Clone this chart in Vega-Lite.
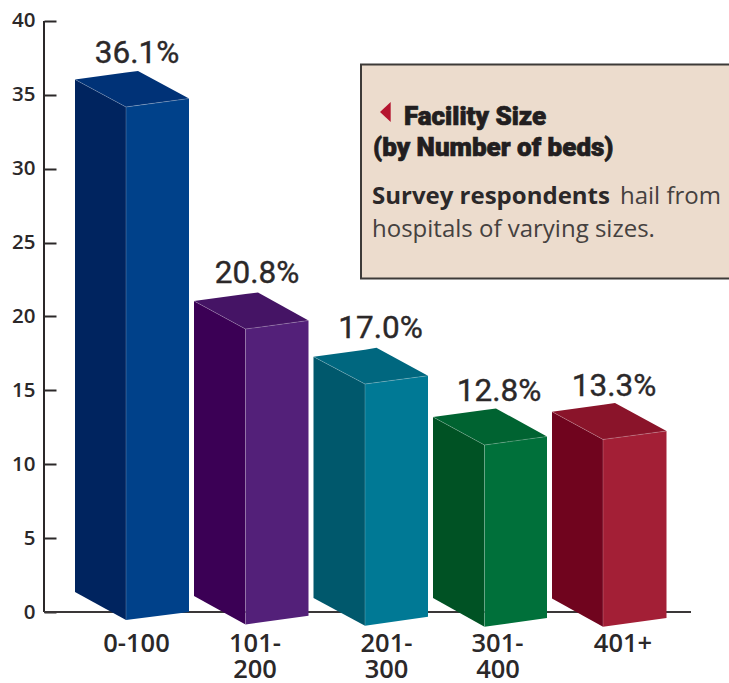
{
"$schema":"https://vega.github.io/schema/vega-lite/v6.json",
"width":729,"height":683,"padding":0,"autosize":{"type":"none"},
"background":"white",
"config":{"view":{"stroke":null}},
"datasets":{
"faces":[
{"k":"b1side","x":75,"y":36.04,"y2":1.35},{"k":"b1side","x":126,"y":34.18,"y2":-0.54},
{"k":"b1front","x":126,"y":34.18,"y2":-0.54},{"k":"b1front","x":189,"y":34.75,"y2":0},
{"k":"b1top","x":75,"y":36.04,"y2":36.04},{"k":"b1top","x":126,"y":36.51,"y2":34.18},{"k":"b1top","x":138,"y":36.62,"y2":34.29},{"k":"b1top","x":189,"y":34.75,"y2":34.75},
{"k":"b2side","x":194,"y":21.05,"y2":1.08},{"k":"b2side","x":245.5,"y":19.15,"y2":-0.85},
{"k":"b2front","x":245.5,"y":19.15,"y2":-0.85},{"k":"b2front","x":308.5,"y":19.73,"y2":-0.25},
{"k":"b2top","x":194,"y":21.05,"y2":21.05},{"k":"b2top","x":245.5,"y":21.52,"y2":19.15},{"k":"b2top","x":258,"y":21.62,"y2":19.26},{"k":"b2top","x":308.5,"y":19.73,"y2":19.73},
{"k":"b3side","x":313.5,"y":17.28,"y2":0.95},{"k":"b3side","x":365,"y":15.43,"y2":-0.93},
{"k":"b3front","x":365,"y":15.43,"y2":-0.93},{"k":"b3front","x":428,"y":15.99,"y2":-0.32},
{"k":"b3top","x":313.5,"y":17.28,"y2":17.28},{"k":"b3top","x":365,"y":17.75,"y2":15.43},{"k":"b3top","x":376.5,"y":17.89,"y2":15.53},{"k":"b3top","x":428,"y":15.99,"y2":15.99},
{"k":"b4side","x":433,"y":13.2,"y2":0.95},{"k":"b4side","x":484.5,"y":11.3,"y2":-0.99},
{"k":"b4front","x":484.5,"y":11.3,"y2":-0.99},{"k":"b4front","x":547,"y":11.88,"y2":-0.41},
{"k":"b4top","x":433,"y":13.2,"y2":13.2},{"k":"b4top","x":484.5,"y":13.67,"y2":11.3},{"k":"b4top","x":496,"y":13.77,"y2":11.4},{"k":"b4top","x":547,"y":11.88,"y2":11.88},
{"k":"b5side","x":552,"y":13.56,"y2":0.91},{"k":"b5side","x":603,"y":11.68,"y2":-0.99},
{"k":"b5front","x":603,"y":11.68,"y2":-0.99},{"k":"b5front","x":666.5,"y":12.25,"y2":-0.41},
{"k":"b5top","x":552,"y":13.56,"y2":13.56},{"k":"b5top","x":603,"y":14.02,"y2":11.68},{"k":"b5top","x":615,"y":14.15,"y2":11.78},{"k":"b5top","x":666.5,"y":12.25,"y2":12.25},
{"k":"marker","x":380,"y":33.84,"y2":33.84},{"k":"marker","x":390.7,"y":34.52,"y2":33.16}
],
"edges":[
{"e":"1a","n":1,"x":75,"y":36.04},{"e":"1a","n":2,"x":126,"y":34.18},{"e":"1a","n":3,"x":189,"y":34.75},
{"e":"1b","n":1,"x":126,"y":34.18},{"e":"1b","n":2,"x":126,"y":-0.54},
{"e":"2a","n":1,"x":194,"y":21.05},{"e":"2a","n":2,"x":245.5,"y":19.15},{"e":"2a","n":3,"x":308.5,"y":19.73},
{"e":"2b","n":1,"x":245.5,"y":19.15},{"e":"2b","n":2,"x":245.5,"y":-0.85},
{"e":"3a","n":1,"x":313.5,"y":17.28},{"e":"3a","n":2,"x":365,"y":15.43},{"e":"3a","n":3,"x":428,"y":15.99},
{"e":"3b","n":1,"x":365,"y":15.43},{"e":"3b","n":2,"x":365,"y":-0.93},
{"e":"4a","n":1,"x":433,"y":13.2},{"e":"4a","n":2,"x":484.5,"y":11.3},{"e":"4a","n":3,"x":547,"y":11.88},
{"e":"4b","n":1,"x":484.5,"y":11.3},{"e":"4b","n":2,"x":484.5,"y":-0.99},
{"e":"5a","n":1,"x":552,"y":13.56},{"e":"5a","n":2,"x":603,"y":11.68},{"e":"5a","n":3,"x":666.5,"y":12.25},
{"e":"5b","n":1,"x":603,"y":11.68},{"e":"5b","n":2,"x":603,"y":-0.99}
],
"values":[
{"t":"36.1%","x":137,"y":37.16},{"t":"20.8%","x":257,"y":22.27},{"t":"17.0%","x":380.5,"y":18.55},{"t":"12.8%","x":499,"y":14.31},{"t":"13.3%","x":614,"y":14.62}
],
"cats":[
{"t":"0-100","x":136.5,"y":-2.69},{"t":"101-","x":255,"y":-2.69},{"t":"200","x":255,"y":-4.47},{"t":"201-","x":386.5,"y":-2.69},{"t":"300","x":386.5,"y":-4.47},{"t":"301-","x":497.5,"y":-2.69},{"t":"400","x":498,"y":-4.47},{"t":"401+","x":623,"y":-2.69}
]
},
"layer":[
{"data":{"values":[{"x":44,"y":0,"y2":40}]},"mark":{"type":"rule","color":"#2b2829","strokeWidth":2},
 "encoding":{"x":{"field":"x","type":"quantitative","scale":{"domain":[0,729],"nice":false,"zero":false},"axis":null},
 "y":{"field":"y","type":"quantitative","scale":{"domain":[-4.805,41.42],"nice":false,"zero":false},
   "axis":{"orient":"left","offset":-44,"values":[0,5,10,15,20,25,30,35,40],"domain":false,"grid":false,"title":null,"tickSize":-12,"tickWidth":2,"tickColor":"#2b2829","labelPadding":21,"labelFont":"Open Sans","labelFontSize":20.5,"labelFontWeight":600,"labelColor":"#2b2829","labelBaseline":"middle","labelOverlap":false,"labelBound":false,"labelFlush":false,"labelAlign":"right"}},
 "y2":{"field":"y2"}}},
{"data":{"values":[{"x":44,"x2":691,"y":0}]},"mark":{"type":"rule","color":"#3a3738","strokeWidth":2},
 "encoding":{"x":{"field":"x","type":"quantitative"},"x2":{"field":"x2"},"y":{"field":"y","type":"quantitative"}}},
{"data":{"values":[{"x":361,"x2":745,"y":37.06,"y2":22.57}]},"mark":{"type":"rect","fill":"#ecdccd","stroke":"#3d3a38","strokeWidth":2},
 "encoding":{"x":{"field":"x","type":"quantitative"},"x2":{"field":"x2"},"y":{"field":"y","type":"quantitative"},"y2":{"field":"y2"}}},
{"data":{"name":"faces"},"mark":{"type":"area","strokeWidth":0.4,"interpolate":"linear"},
 "encoding":{"x":{"field":"x","type":"quantitative"},"y":{"field":"y","type":"quantitative"},"y2":{"field":"y2"},
 "color":{"field":"k","type":"nominal","legend":null,"scale":{
  "domain":["b1side","b1front","b1top","b2side","b2front","b2top","b3side","b3front","b3top","b4side","b4front","b4top","b5side","b5front","b5top","marker"],
  "range":["#00245f","#00418a","#003277","#3b0055","#532079","#451465","#00586c","#007995","#00677f","#005224","#00703a","#006331","#70041e","#a31f36","#8a142a","#b5152f"]}}}},
{"data":{"name":"edges"},"mark":{"type":"line","color":"#ffffff","strokeWidth":0.7,"opacity":0.3},
 "encoding":{"x":{"field":"x","type":"quantitative"},"y":{"field":"y","type":"quantitative"},"detail":{"field":"e"},"order":{"field":"n"}}},
{"data":{"name":"values"},"mark":{"type":"text","font":"Roboto","fontSize":31.5,"fontWeight":400,"color":"#2b2829","stroke":"#2b2829","strokeWidth":0.4,"align":"center","baseline":"alphabetic"},
 "encoding":{"x":{"field":"x","type":"quantitative"},"y":{"field":"y","type":"quantitative"},"text":{"field":"t"}}},
{"data":{"name":"cats"},"mark":{"type":"text","font":"Open Sans","fontSize":25.5,"fontWeight":600,"color":"#2b2829","align":"center","baseline":"alphabetic"},
 "encoding":{"x":{"field":"x","type":"quantitative"},"y":{"field":"y","type":"quantitative"},"text":{"field":"t"}}},
{"data":{"values":[{"t":"Facility Size","x":404,"y":32.96},{"t":"(by Number of beds)","x":373,"y":30.86}]},
 "mark":{"type":"text","font":"Roboto","fontSize":26,"fontWeight":900,"color":"#221e20","stroke":"#221e20","strokeWidth":0.7,"align":"left","baseline":"alphabetic"},
 "encoding":{"x":{"field":"x","type":"quantitative"},"y":{"field":"y","type":"quantitative"},"text":{"field":"t"}}},
{"data":{"values":[{"t":"Survey respondents","x":372,"y":27.61}]},
 "mark":{"type":"text","font":"Open Sans","fontSize":24,"fontWeight":700,"color":"#2b2829","align":"left","baseline":"alphabetic"},
 "encoding":{"x":{"field":"x","type":"quantitative"},"y":{"field":"y","type":"quantitative"},"text":{"field":"t"}}},
{"data":{"values":[{"t":"hail from","x":620,"y":27.61},{"t":"hospitals of varying sizes.","x":372,"y":25.4}]},
 "mark":{"type":"text","font":"Open Sans","fontSize":24,"fontWeight":400,"color":"#45413f","align":"left","baseline":"alphabetic"},
 "encoding":{"x":{"field":"x","type":"quantitative"},"y":{"field":"y","type":"quantitative"},"text":{"field":"t"}}}
]
}
